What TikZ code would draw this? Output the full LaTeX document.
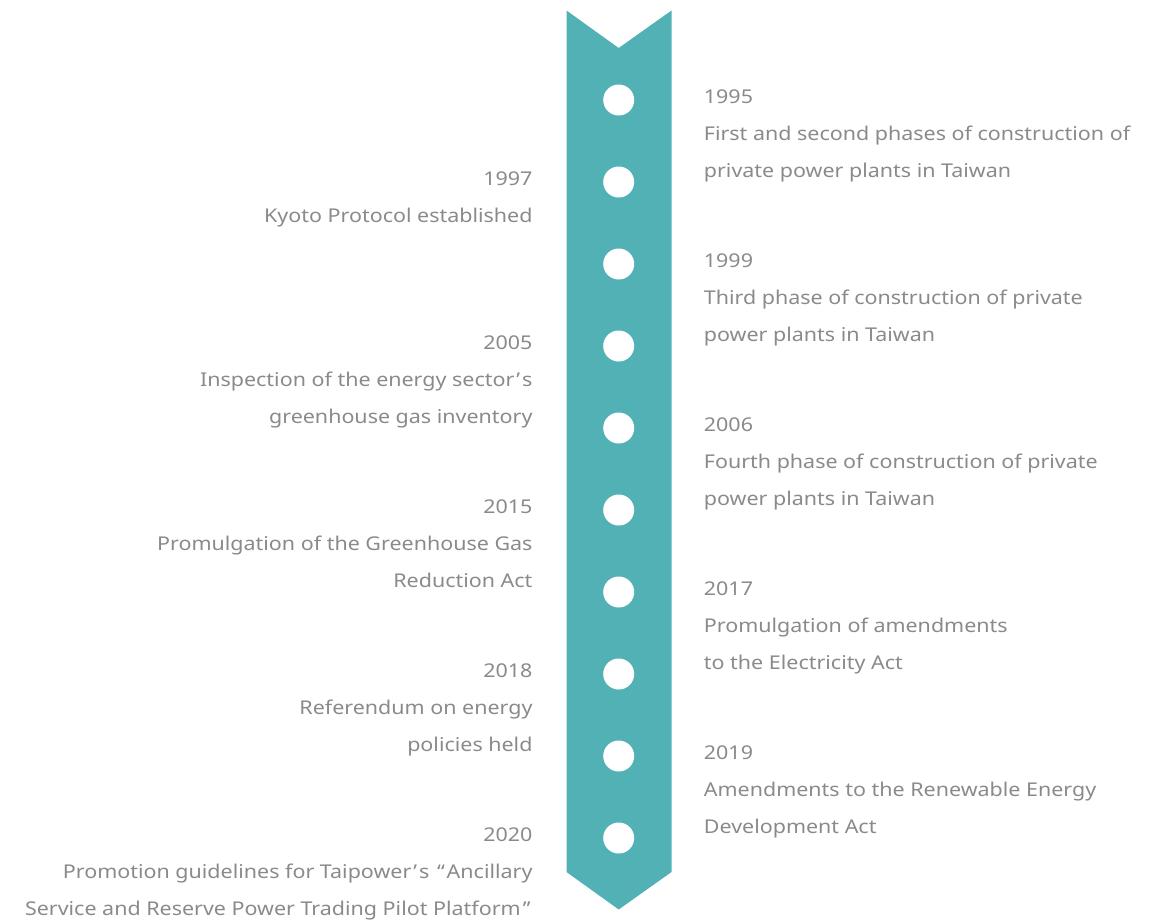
\documentclass[tikz,border=0pt]{standalone}
\usepackage{fontspec}
\setmainfont[FakeStretch=1.13]{Noto Sans}
\usepackage{xcolor}
\usetikzlibrary{positioning,calc}
\definecolor{bandteal}{HTML}{52B1B5}
\definecolor{txtgray}{HTML}{8A8A8A}
\newcommand{\q}[1]{\kern2pt#1\kern2pt}

\begin{document}
\begin{tikzpicture}[
  x=1pt, y=1pt,
  dot/.style={circle, fill=white, minimum size=31pt, inner sep=0pt},
  rt/.style={anchor=north west, align=left, inner sep=0pt, text=txtgray, font=\fontsize{19}{37}\selectfont},
  lt/.style={anchor=north east, align=right, inner sep=0pt, text=txtgray, font=\fontsize{19}{37}\selectfont}
]
\useasboundingbox (0,0) rectangle (1159,-922);
% the band
\fill[bandteal] (566.5,-10.5) -- (618.7,-48) -- (671.5,-10.5) -- (671.5,-872)
  -- (618.7,-909.5) -- (566.5,-872) -- cycle;
% dots
\foreach \i in {1,...,10}
  \node[dot] (dot\i) at (618.7,{-100-82*(\i-1)}) {};

% right side
\node[rt] (e1995) at ($(dot1)+(85,10)$) {1995\\First and second phases of construction of\\private power plants in Taiwan};
\node[rt] (e1999) at ($(dot3)+(85,10)$) {1999\\Third phase of construction of private\\power plants in Taiwan};
\node[rt] (e2006) at ($(dot5)+(85,10)$) {2006\\Fourth phase of construction of private\\power plants in Taiwan};
\node[rt] (e2017) at ($(dot7)+(85,10)$) {2017\\Promulgation of amendments\\to the Electricity Act};
\node[rt] (e2019) at ($(dot9)+(85,10)$) {2019\\Amendments to the Renewable Energy\\Development Act};

% left side
\node[lt] (e1997) at ($(dot2)+(-86,10)$) {1997\\Kyoto Protocol established};
\node[lt] (e2005) at ($(dot4)+(-86,10)$) {2005\\Inspection of the energy sector\q{’}s\\greenhouse gas inventory};
\node[lt] (e2015) at ($(dot6)+(-86,10)$) {2015\\Promulgation of the Greenhouse Gas\\Reduction Act};
\node[lt] (e2018) at ($(dot8)+(-86,10)$) {2018\\Referendum on energy\\policies held};
\node[lt] (e2020) at ($(dot10)+(-86,10)$) {2020\\Promotion guidelines for Taipower\q{’}s \q{“}Ancillary\\Service and Reserve Power Trading Pilot Platform\q{”}};
\end{tikzpicture}
\end{document}
